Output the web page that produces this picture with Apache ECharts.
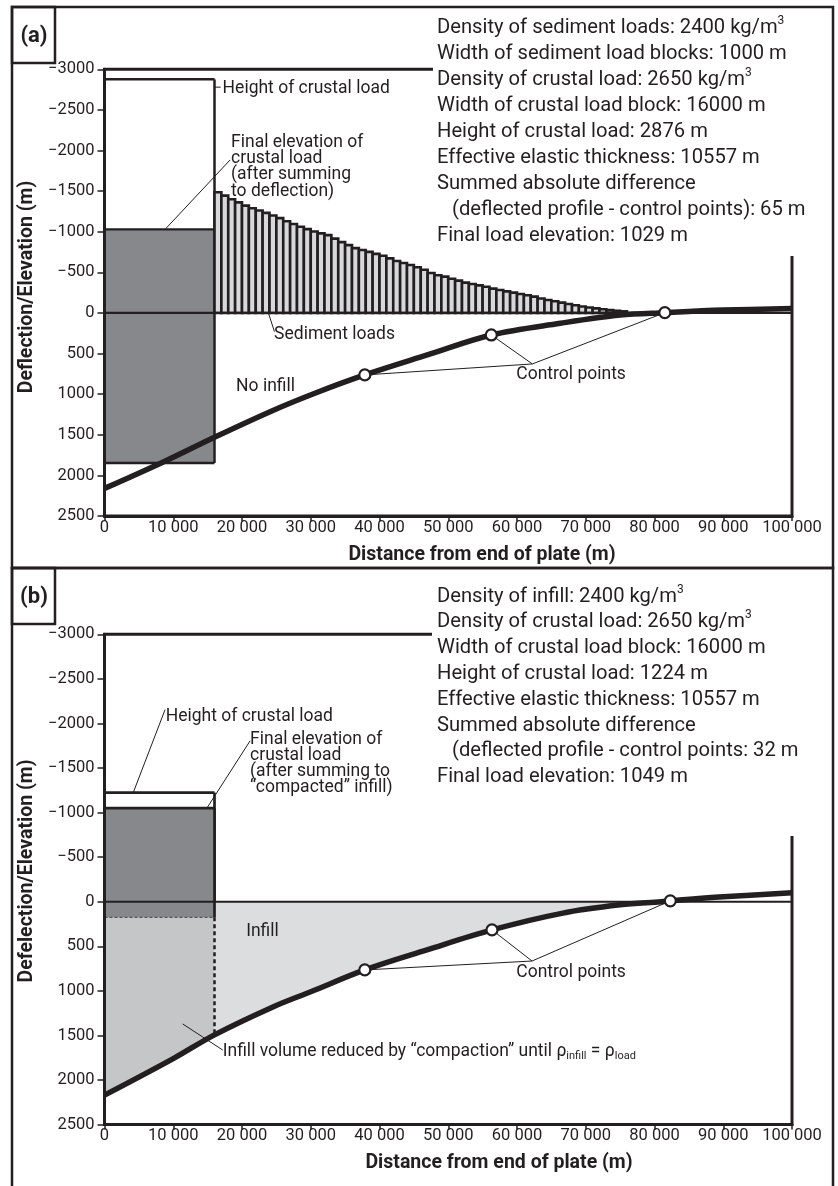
<!DOCTYPE html>
<html><head><meta charset="utf-8">
<script src="https://cdn.jsdelivr.net/npm/echarts@6/dist/echarts.min.js"></script>
<style>html,body{margin:0;padding:0;background:#fff}#c{width:838px;height:1186px}</style>
</head><body><div id="c"></div>
<script>
// ---------------- data ----------------
const xTickLabels = ['0','10 000','20 000','30 000','40 000','50 000','60 000','70 000','80 000','90 000','100 000'];
const yTickLabels = ['\u22123000','\u22122500','\u22122000','\u22121500','\u22121000','\u2212500','0','500','1000','1500','2000','2500'];

const loadWidth = 16000;            // m
const sedimentBlockWidth = 1000;    // m
const crustalHeightA = 2876, finalElevationA = 1029;
const crustalHeightB = 1224, finalElevationB = 1049;

const sedimentStartA = [16000,17000,18000,19000,20000,21000,22000,23000,24000,25000,
  26000,27000,28000,29000,30000,31000,32000,33000,34000,35000,
  36000,37000,38000,39000,40000,41000,42000,43000,44000,45000,
  46000,47000,48000,49000,50000,51000,52000,53000,54000,55000,
  56000,57000,58000,59000,60000,61000,62000,63000,64000,65000,
  66000,67000,68000,69000,70000,71000,72000,73000,74000,75000];
const sedimentHeightA = [1486,1445,1400,1362,1322,1290,1262,1232,1200,1168,
  1130,1095,1062,1032,1002,980,958,915,872,835,
  798,775,752,728,704,672,640,615,590,562,
  532,492,465,447,422,398,374,357,340,322,
  300,283,266,250,234,218,201,178,160,144,
  127,111,95,80,68,57,46,35,27,20];

const curveXA = [0,8400,16000,24500,30700,37860,46940,56260,66300,75000,81500,90000,100000];
const curveYA = [2160,1840,1530,1200,985,763,517,271,127,25,-4,-35,-55];
const controlXA = [37860,56260,81500];
const controlYA = [763,271,-4];

const curveXB = [0,10000,16000,24500,30000,37860,46900,56360,66500,75000,81000,82300,90000,100000];
const curveYB = [2170,1760,1493,1180,1010,765,540,316,130,35,0,-10,-55,-100];
const controlXB = [37860,56360,82300];
const controlYB = [765,316,-10];

// ---------------- styles / helpers ----------------
const INK = '#231f20';
const FONT = 'Roboto';
const ANN = 17.5;
const zip = (xs, ys) => xs.map((x, i) => [x, ys[i]]);

function xAxisCfg(gi) {
  return { type:'value', gridIndex:gi, min:0, max:100000, interval:10000, z:10,
    axisLine:{ show:true, onZero:false, lineStyle:{ color:INK, width:3 } },
    axisTick:{ show:true, length:5, lineStyle:{ color:INK, width:1.5 } },
    axisLabel:{ color:INK, fontFamily:FONT, fontSize:16.5, margin:3, formatter:(v, i) => xTickLabels[i] },
    splitLine:{ show:false } };
}
function yAxisCfg(gi) {
  return { type:'value', gridIndex:gi, inverse:true, min:-3000, max:2500, interval:500, z:10,
    axisLine:{ show:true, onZero:false, lineStyle:{ color:INK, width:3 } },
    axisTick:{ show:true, length:7, lineStyle:{ color:INK, width:1.5 } },
    axisLabel:{ color:INK, fontFamily:FONT, fontSize:16.5, margin:10, formatter:(v, i) => yTickLabels[i] },
    splitLine:{ show:false } };
}

function blockSeries(gi, blocks) {
  return { type:'custom', xAxisIndex:gi, yAxisIndex:gi, z:3, silent:true, clip:false,
    data: blocks.map(b => [b.x0, b.top]),
    renderItem: (params, api) => {
      const b = blocks[params.dataIndex];
      const p0 = api.coord([b.x0, b.top]), p1 = api.coord([b.x1, b.bot]);
      const ch = [{ type:'rect', shape:{ x:p0[0], y:p0[1], width:p1[0]-p0[0], height:p1[1]-p0[1] }, style:{ fill:b.fill } }];
      const edge = (x1,y1,x2,y2,st) => ch.push({ type:'line', shape:{x1,y1,x2,y2},
        style:{ stroke: st.color || INK, lineWidth: st.w, lineDash: st.dash || null } });
      if (b.top_e) edge(p0[0], p0[1], p1[0], p0[1], b.top_e);
      if (b.right_e) edge(p1[0], p0[1], p1[0], p1[1], b.right_e);
      if (b.bot_e) edge(p0[0], p1[1], p1[0], p1[1], b.bot_e);
      return { type:'group', children: ch };
    } };
}

function segSeries(gi, segs, z, width, dash) {
  return { type:'custom', xAxisIndex:gi, yAxisIndex:gi, z, silent:true, clip:false,
    data: segs.map(s => [s[0], s[1]]),
    renderItem: (params, api) => {
      const s = segs[params.dataIndex];
      const a = api.coord([s[0], s[1]]), b = api.coord([s[2], s[3]]);
      return { type:'line', shape:{ x1:a[0], y1:a[1], x2:b[0], y2:b[1] },
        style:{ stroke:INK, lineWidth:width, lineDash: dash || null } };
    } };
}

function textSeries(gi, items) {
  return { type:'custom', xAxisIndex:gi, yAxisIndex:gi, z:9, silent:true, clip:false,
    data: items.map(t => [t.x, t.y]),
    renderItem: (params, api) => {
      const t = items[params.dataIndex];
      const p = api.coord([t.x, t.y]);
      return { type:'text', x:p[0], y:p[1], style:{ text:t.text, fill:INK, fontFamily:FONT,
        fontSize:t.size || ANN, lineHeight:t.lh || 20, align:'left', verticalAlign:'middle',
        textAlign:'left', textVerticalAlign:'middle', rich:t.rich } };
    } };
}

function curveSeries(gi, data) {
  return { type:'line', xAxisIndex:gi, yAxisIndex:gi, z:6, silent:true, data, smooth:0.35,
    showSymbol:false, lineStyle:{ color:INK, width:5.5 } };
}
function areaSeries(gi, data, color) {
  return { type:'line', xAxisIndex:gi, yAxisIndex:gi, z:2, silent:true, data, smooth:0.35,
    showSymbol:false, lineStyle:{ width:0 }, areaStyle:{ color, opacity:1 } };
}
function pointSeries(gi, data) {
  return { type:'scatter', xAxisIndex:gi, yAxisIndex:gi, z:10, silent:true, data, symbol:'circle',
    symbolSize:11, itemStyle:{ color:'#fff', borderColor:INK, borderWidth:2.2, opacity:1 } };
}
function zeroLine(gi) {
  return { type:'line', xAxisIndex:gi, yAxisIndex:gi, z:5, silent:true, data:[[0,0],[100000,0]],
    showSymbol:false, lineStyle:{ color:INK, width:2.2 } };
}

// ---------------- panel (a) ----------------
const blocksA = [
  { x0:0, x1:loadWidth, top:-crustalHeightA, bot:0, fill:'#ffffff',
    top_e:{w:2.5}, right_e:{w:2.5} },
  { x0:0, x1:loadWidth, top:-finalElevationA, bot:crustalHeightA - finalElevationA, fill:'#87888b',
    top_e:{w:2.2}, right_e:{w:2.5}, bot_e:{w:2.4} }
];
const sedimentSeriesA = { type:'custom', xAxisIndex:0, yAxisIndex:0, z:3, silent:true, clip:false,
  data: zip(sedimentStartA, sedimentHeightA),
  renderItem: (params, api) => {
    const x0 = api.value(0), h = api.value(1);
    const p0 = api.coord([x0, 0]), p1 = api.coord([x0 + sedimentBlockWidth, -h]);
    return { type:'rect', shape:{ x:p0[0], y:p1[1], width:p1[0]-p0[0], height:p0[1]-p1[1] },
      style:{ fill:'#d7d8da', stroke:INK, lineWidth:2.6 } };
  } };
const vertexA = [62230, 628];
const leadersA = [
  [16000,-2780,16900,-2780],
  [8910,-1038,18270,-1884],
  [23840,0,24720,230]
].concat(controlXA.map((x, i) => [vertexA[0], vertexA[1], x, controlYA[i]]));
const labelsA = [
  { x:17180, y:-2759, text:'Height of crustal load' },
  { x:18410, y:-1798, text:'Final elevation of\ncrustal load\n(after summing\nto deflection)', lh:16.4 },
  { x:24670, y:271, text:'Sediment loads' },
  { x:19140, y:905, text:'No infill' },
  { x:59900, y:763, text:'Control points' }
];

// ---------------- panel (b) ----------------
const blocksB = [
  { x0:0, x1:loadWidth, top:-crustalHeightB, bot:0, fill:'#ffffff',
    top_e:{w:2.7}, right_e:{w:2.7} },
  { x0:0, x1:loadWidth, top:-finalElevationB, bot:crustalHeightB - finalElevationB, fill:'#87888b',
    top_e:{w:2.7}, right_e:{w:2.7}, bot_e:{w:1.2, dash:[3,2], color:'#555'} }
];
const curveB = zip(curveXB, curveYB);
const compactB = curveB.filter(p => p[0] <= loadWidth);
const infillB = curveB.filter(p => p[0] >= loadWidth && p[1] >= 0);
const yAtLoadB = curveYB[curveXB.indexOf(loadWidth)];
const vertexB = [62190, 665];
const leadersB = [
  [4190,-1226,8810,-2155],
  [14960,-1058,21180,-1805],
  [11380,1371,17200,1664]
].concat(controlXB.map((x, i) => [vertexB[0], vertexB[1], x, controlYB[i]]));
const labelsB = [
  { x:8900, y:-2078, text:'Height of crustal load' },
  { x:21180, y:-1544, text:'Final elevation of\ncrustal load\n(after summing to\n\u201Ccompacted\u201D infill)', lh:16 },
  { x:20600, y:336, text:'Infill' },
  { x:17200, y:1681, text:'Infill volume reduced by \u201Ccompaction\u201D until \u03C1{sub|infill} = \u03C1{sub|load}', lh:21,
    rich:{ sub:{ fontSize:11, fontFamily:FONT, fill:INK, verticalAlign:'bottom', lineHeight:8 } } },
  { x:59900, y:794, text:'Control points' }
];

// ---------------- text blocks ----------------
const textA = [
  'Density of sediment loads: 2400 kg/m{s|3}',
  'Width of sediment load blocks: 1000 m',
  'Density of crustal load: 2650 kg/m{s|3}',
  'Width of crustal load block: 16000 m',
  'Height of crustal load: 2876 m',
  'Effective elastic thickness: 10557 m',
  'Summed absolute difference',
  '   (deflected profile - control points): 65 m',
  'Final load elevation: 1029 m'
];
const textB = [
  'Density of infill: 2400 kg/m{s|3}',
  'Density of crustal load: 2650 kg/m{s|3}',
  'Width of crustal load block: 16000 m',
  'Height of crustal load: 1224 m',
  'Effective elastic thickness: 10557 m',
  'Summed absolute difference',
  '   (deflected profile - control points: 32 m',
  'Final load elevation: 1049 m'
];
const supRich = { s:{ fontSize:12, fontFamily:FONT, fill:INK, verticalAlign:'top', lineHeight:19 } };

function infoBox(x, y, w, h, lines, top, lh) {
  return { type:'group', z:50, silent:true, children:[
    { type:'rect', shape:{ x, y, width:w, height:h }, style:{ fill:'#fff' }, z:50 },
    { type:'text', x:437, y:top, z:51, style:{ text:lines.join('\n'), fill:INK, fontFamily:FONT, fontSize:20.2,
      lineHeight:lh, align:'left', verticalAlign:'top', textAlign:'left', textVerticalAlign:'top', rich:supRich } }
  ]};
}
function plainText(x, y, text, font, rot) {
  return { type:'text', x, y, rotation: rot || 0, z:60, silent:true,
    style:{ text, font, fill:INK, align:'center', verticalAlign:'middle', textAlign:'center', textVerticalAlign:'middle' } };
}
function frame(x, y, w, h, lw) {
  return { type:'rect', z:100, silent:true, shape:{ x, y, width:w, height:h }, style:{ fill:'none', stroke:INK, lineWidth:lw } };
}

const option = {
  animation:false,
  backgroundColor:'#fff',
  grid:[
    { left:104.5, top:69.3, width:687.5, height:446.7, show:true, borderColor:INK, borderWidth:3, backgroundColor:'transparent' },
    { left:104.5, top:634.3, width:687.5, height:490.3, show:true, borderColor:INK, borderWidth:3, backgroundColor:'transparent' }
  ],
  xAxis:[ xAxisCfg(0), xAxisCfg(1) ],
  yAxis:[ yAxisCfg(0), yAxisCfg(1) ],
  series:[
    // panel a
    blockSeries(0, blocksA),
    sedimentSeriesA,
    zeroLine(0),
    curveSeries(0, zip(curveXA, curveYA)),
    segSeries(0, leadersA, 7, 1),
    pointSeries(0, zip(controlXA, controlYA)),
    textSeries(0, labelsA),
    // panel b
    areaSeries(1, compactB, '#c5c6c8'),
    areaSeries(1, infillB, '#dcdddf'),
    blockSeries(1, blocksB),
    zeroLine(1),
    segSeries(1, [[loadWidth, crustalHeightB - finalElevationB, loadWidth, yAtLoadB]], 4, 2.5, [4,3]),
    curveSeries(1, curveB),
    segSeries(1, leadersB, 7, 1),
    pointSeries(1, zip(controlXB, controlYB)),
    textSeries(1, labelsB)
  ],
  graphic:[
    infoBox(433, 9, 397, 247, textA, 14.5, 26),
    infoBox(432, 571, 398, 265, textB, 583.6, 25.8),
    plainText(27.5, 287, 'Deflection/Elevation (m)', 'bold 19.5px Roboto', Math.PI/2),
    plainText(27.5, 871, 'Defelection/Elevation (m)', 'bold 19.5px Roboto', Math.PI/2),
    plainText(482, 555, 'Distance from end of plate (m)', 'bold 19.5px Roboto'),
    plainText(499, 1163, 'Distance from end of plate (m)', 'bold 19.5px Roboto'),
    plainText(34, 36, '(a)', 'bold 22px Roboto'),
    plainText(34, 597, '(b)', 'bold 22px Roboto'),
    frame(12, 7, 821, 561, 2.5),
    frame(12, 568, 821, 640, 2.5),
    frame(12, 7, 43, 56, 2.5),
    frame(12, 568, 43, 56, 2.5)
  ]
};
const chart = echarts.init(document.getElementById('c'));
chart.setOption(option);
</script></body></html>
